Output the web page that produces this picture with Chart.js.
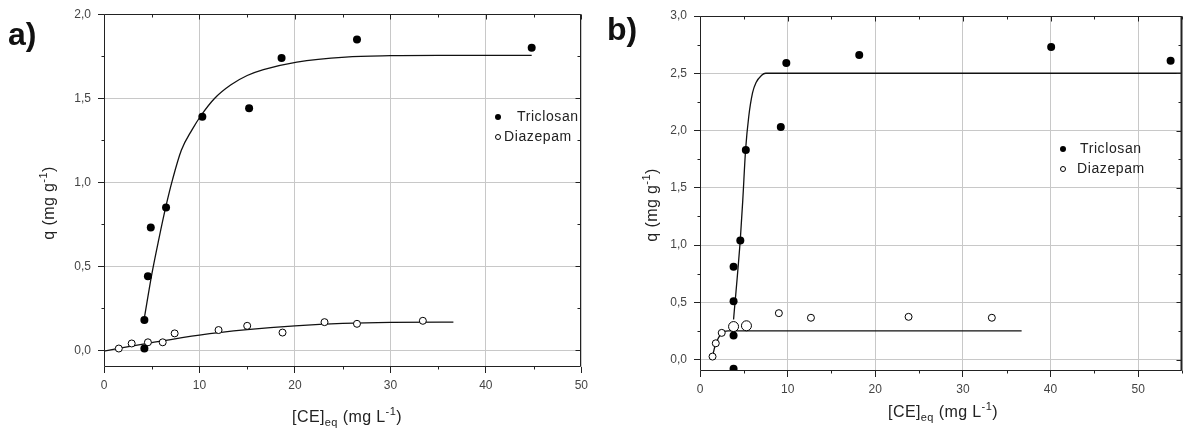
<!DOCTYPE html>
<html>
<head>
<meta charset="utf-8">
<script src="https://cdn.jsdelivr.net/npm/chart.js@4.4.0/dist/chart.umd.min.js"></script>
<style>
  html, body { margin: 0; padding: 0; background: #fff; }
  #wrap { position: relative; width: 1187px; height: 434px; overflow: hidden; }
  .panel { position: absolute; top: 0; height: 434px; }
</style>
</head>
<body>
<div id="wrap">
  <div class="panel" style="left:0;width:593px"><canvas id="chartA" width="593" height="434"></canvas></div>
  <div class="panel" style="left:593px;width:594px"><canvas id="chartB" width="594" height="434"></canvas></div>
</div>
<script>
// ---- panel a) measured points
const triAx = [4.23, 4.23, 4.6, 4.9, 6.5, 10.3, 15.2, 18.6, 26.5, 44.8];
const triAy = [0.01, 0.18, 0.44, 0.73, 0.85, 1.39, 1.44, 1.74, 1.85, 1.80];
const diaAx = [1.55, 2.9, 4.6, 6.15, 7.4, 12.0, 15.0, 18.7, 23.1, 26.5, 33.4];
const diaAy = [0.01, 0.04, 0.047, 0.047, 0.10, 0.12, 0.145, 0.105, 0.167, 0.157, 0.175];
// panel a) fitted curves
const triAfitX = [4.25, 5.0, 5.74, 6.5, 7.2, 8.1, 9.2, 10.2, 11.6, 13.3, 15.0, 16.7, 20.2, 25.3, 30, 35, 40, 44.8];
const triAfitY = [0.2, 0.45, 0.66, 0.86, 1.02, 1.19, 1.31, 1.40, 1.50, 1.58, 1.635, 1.67, 1.715, 1.745, 1.753, 1.755, 1.755, 1.755];
const diaAfitX = [0, 5, 10, 15, 20, 25, 30, 36.6];
const diaAfitY = [-0.005, 0.045, 0.09, 0.122, 0.145, 0.16, 0.166, 0.167];

// ---- panel b) measured points
const triBx = [3.83, 3.83, 3.83, 3.83, 4.6, 5.23, 9.22, 9.85, 18.17, 40.07, 53.7];
const triBy = [-0.08, 0.21, 0.51, 0.81, 1.04, 1.83, 2.03, 2.59, 2.66, 2.73, 2.61];
const diaBx = [1.43, 1.8, 2.48, 3.83, 5.3, 9.0, 12.66, 23.8, 33.3];
const diaBy = [0.026, 0.142, 0.233, 0.288, 0.295, 0.405, 0.365, 0.373, 0.365];
// panel b) fitted curves
const triBfitX = [3.83, 4.6, 4.88, 5.2, 5.56, 6.0, 6.4, 7.0, 7.5, 55];
const triBfitY = [0.35, 1.05, 1.39, 1.83, 2.12, 2.33, 2.42, 2.48, 2.5, 2.5];
const diaBfitX = [1.43, 1.8, 2.48, 3.2, 36.7];
const diaBfitY = [0.03, 0.14, 0.23, 0.25, 0.25];

// tick labels
const xLabelsA = ['0', '10', '20', '30', '40', '50'];
const yLabelsA = ['0,0', '0,5', '1,0', '1,5', '2,0'];
const xLabelsB = ['0', '10', '20', '30', '40', '50'];
const yLabelsB = ['0,0', '0,5', '1,0', '1,5', '2,0', '2,5', '3,0'];
const seriesNames = ['Triclosan', 'Diazepam'];

const FONT = '"Liberation Sans", Arial, sans-serif';
const pts = (xs, ys) => xs.map((x, i) => ({ x: x, y: ys[i] }));
const isMult = (v, s) => Math.abs(v / s - Math.round(v / s)) < 1e-6;

function richText(ctx, parts, cx, cy, rot) {
  ctx.save();
  ctx.translate(cx, cy);
  ctx.rotate(rot);
  ctx.fillStyle = '#222';
  ctx.textBaseline = 'alphabetic';
  if ('letterSpacing' in ctx) ctx.letterSpacing = '0.4px';
  const big = '16px ' + FONT, small = '11px ' + FONT;
  let w = 0;
  parts.forEach(p => { ctx.font = p[1] ? small : big; w += ctx.measureText(p[0]).width; });
  let xx = -w / 2;
  parts.forEach(p => {
    ctx.font = p[1] ? small : big;
    ctx.fillText(p[0], xx, p[1] === 1 ? 4 : p[1] === 2 ? -7 : 0);
    xx += ctx.measureText(p[0]).width;
  });
  ctx.restore();
}

const decor = {
  id: 'decor',
  afterDraw(chart, args, o) {
    const { ctx, chartArea: a, scales: { x, y } } = chart;
    const L = Math.round(a.left) + 0.5, R = Math.round(a.right) - 0.5;
    const T = Math.round(a.top) + 0.5, B = Math.round(a.bottom) - 0.5;
    ctx.save();
    ctx.strokeStyle = '#222';
    ctx.lineWidth = 1;
    ctx.beginPath();
    ctx.rect(L, T, R - L, B - T);
    x.ticks.forEach(t => {
      const px = Math.round(x.getPixelForValue(t.value)) + 0.5;
      const major = isMult(t.value, 10);
      ctx.moveTo(px, T); ctx.lineTo(px, T + (major ? 5 : 3));
      if (!major) { ctx.moveTo(px, B); ctx.lineTo(px, B + 3); }
    });
    y.ticks.forEach(t => {
      const py = Math.round(y.getPixelForValue(t.value)) + 0.5;
      const major = isMult(t.value, 0.5);
      ctx.moveTo(R, py); ctx.lineTo(R - (major ? 5 : 3), py);
      if (!major) { ctx.moveTo(L, py); ctx.lineTo(L - 3, py); }
    });
    ctx.stroke();
    if (o.thickRight) {
      ctx.lineWidth = 2;
      ctx.beginPath(); ctx.moveTo(R, T); ctx.lineTo(R, B); ctx.stroke();
    }

    // panel letter
    ctx.fillStyle = '#111';
    ctx.font = 'bold 32px ' + FONT;
    ctx.textBaseline = 'alphabetic';
    ctx.fillText(o.letter, o.letterX, o.letterY);

    // axis titles
    richText(ctx, [['q (mg g', 0], ['-1', 2], [')', 0]], o.yTitleX, o.yTitleY, -Math.PI / 2);
    richText(ctx, [['[CE]', 0], ['eq', 1], [' (mg L', 0], ['-1', 2], [')', 0]], o.xTitleX, o.xTitleY, 0);

    // legend
    ctx.font = '14px ' + FONT;
    ctx.textBaseline = 'middle';
    if ('letterSpacing' in ctx) ctx.letterSpacing = '0.6px';
    o.legend.forEach((it, i) => {
      ctx.beginPath();
      if (i === 0) {
        ctx.fillStyle = '#000';
        ctx.arc(it.bx, it.y, 3, 0, Math.PI * 2);
        ctx.fill();
      } else {
        ctx.strokeStyle = '#000';
        ctx.lineWidth = 1;
        ctx.arc(it.bx, it.y, 2.5, 0, Math.PI * 2);
        ctx.stroke();
      }
      ctx.fillStyle = '#222';
      ctx.fillText(seriesNames[i], it.tx, it.y);
    });
    ctx.restore();
  }
};

function makeChart(id, d) {
  const majorY = v => isMult(v, 0.5);
  const majorX = v => isMult(v, 10);
  return new Chart(document.getElementById(id), {
    type: 'scatter',
    data: {
      datasets: [
        { label: seriesNames[0], data: pts(d.triX, d.triY), showLine: false,
          pointRadius: 4, pointBackgroundColor: '#000', pointBorderColor: '#000', pointBorderWidth: 0 },
        { label: seriesNames[1], data: pts(d.diaX, d.diaY), showLine: false,
          pointRadius: d.diaR, pointBackgroundColor: '#fff', pointBorderColor: '#000', pointBorderWidth: 1 },
        { label: 'fit 1', data: pts(d.triFX, d.triFY), showLine: true, pointRadius: 0,
          borderColor: '#111', borderWidth: 1.3, cubicInterpolationMode: 'monotone', tension: 0.4 },
        { label: 'fit 2', data: pts(d.diaFX, d.diaFY), showLine: true, pointRadius: 0,
          borderColor: '#111', borderWidth: 1.3, cubicInterpolationMode: 'monotone', tension: 0.4 }
      ]
    },
    options: {
      responsive: false,
      animation: false,
      layout: { padding: d.padding, autoPadding: false },
      plugins: { legend: { display: false }, tooltip: { enabled: false }, decor: d.decor },
      scales: {
        x: {
          type: 'linear', min: 0, max: d.xMax,
          afterFit(s) { s.height = d.xAxisH; },
          border: { display: false },
          grid: {
            color: c => majorX(c.tick.value) ? '#c8c8c8' : 'rgba(0,0,0,0)',
            tickColor: c => majorX(c.tick.value) ? '#222' : 'rgba(0,0,0,0)',
            tickLength: 6, lineWidth: 1
          },
          ticks: {
            stepSize: 5, includeBounds: false, autoSkip: false, maxRotation: 0, padding: 5,
            color: '#444', font: { family: FONT, size: 12 },
            callback: v => majorX(v) ? d.xLabels[Math.round(v / 10)] : ''
          }
        },
        y: {
          type: 'linear', min: -0.1, max: d.yMax,
          afterFit(s) { s.width = d.yAxisW; },
          border: { display: false },
          grid: {
            color: c => majorY(c.tick.value) ? '#c8c8c8' : 'rgba(0,0,0,0)',
            tickColor: c => majorY(c.tick.value) ? '#222' : 'rgba(0,0,0,0)',
            tickLength: 6, lineWidth: 1
          },
          ticks: {
            stepSize: 0.25, includeBounds: false, autoSkip: false, padding: 7,
            color: '#444', font: { family: FONT, size: 12 },
            callback: v => majorY(v) ? d.yLabels[Math.round(v / 0.5)] : ''
          }
        }
      }
    },
    plugins: [decor]
  });
}

makeChart('chartA', {
  triX: triAx, triY: triAy, diaX: diaAx, diaY: diaAy, diaR: 3.5,
  triFX: triAfitX, triFY: triAfitY, diaFX: diaAfitX, diaFY: diaAfitY,
  xMax: 50, yMax: 2.0, xLabels: xLabelsA, yLabels: yLabelsA,
  padding: { left: 0, right: 4, top: 12, bottom: 0 }, yAxisW: 104, xAxisH: 67,
  decor: {
    letter: 'a)', letterX: 8, letterY: 45,
    yTitleX: 54, yTitleY: 203, xTitleX: 347, xTitleY: 422,
    legend: [{ bx: 498, tx: 517, y: 117 }, { bx: 498, tx: 504, y: 137 }]
  }
});

makeChart('chartB', {
  triX: triBx, triY: triBy, diaX: diaBx, diaY: diaBy, diaR: [3.5, 3.5, 3.5, 5, 5, 3.5, 3.5, 3.5, 3.5],
  triFX: triBfitX, triFY: triBfitY, diaFX: diaBfitX, diaFY: diaBfitY,
  xMax: 55, yMax: 3.0, xLabels: xLabelsB, yLabels: yLabelsB,
  padding: { left: 0, right: 1, top: 16, bottom: 0 }, yAxisW: 107, xAxisH: 63,
  decor: {
    letter: 'b)', letterX: 14, letterY: 40, thickRight: true,
    yTitleX: 64, yTitleY: 205, xTitleX: 350, xTitleY: 417,
    legend: [{ bx: 470, tx: 487, y: 149 }, { bx: 470, tx: 484, y: 169 }]
  }
});
</script>
</body>
</html>
